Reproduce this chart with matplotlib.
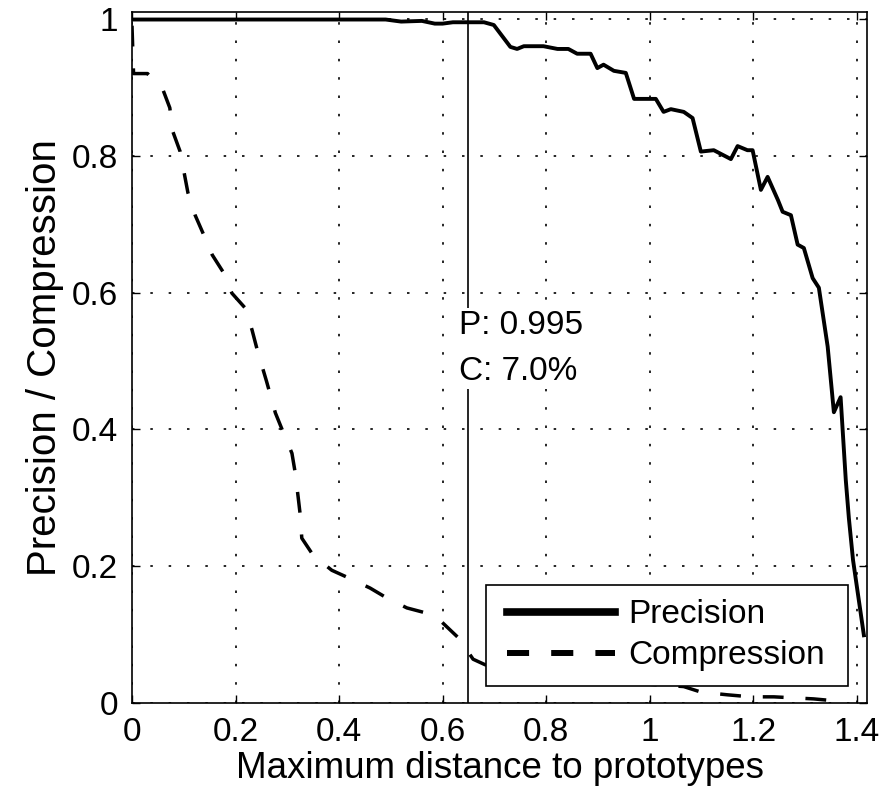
import matplotlib
matplotlib.use("Agg")
import matplotlib.pyplot as plt
from matplotlib.patches import Rectangle

plt.rcParams["font.family"] = ["Liberation Sans", "DejaVu Sans"]

# precision curve
prec_x = [0.0, 0.49, 0.52, 0.56, 0.585, 0.60, 0.62, 0.68, 0.699, 0.731, 0.744, 0.757,
          0.795, 0.822, 0.843, 0.860, 0.886, 0.899, 0.911, 0.931, 0.954, 0.970, 1.012,
          1.027, 1.041, 1.066, 1.083, 1.099, 1.124, 1.157, 1.170, 1.189, 1.199, 1.215,
          1.228, 1.248, 1.257, 1.273, 1.286, 1.298, 1.315, 1.327, 1.344, 1.356, 1.369,
          1.379, 1.385, 1.393, 1.414]
prec_y = [0.999, 0.999, 0.996, 0.997, 0.993, 0.993, 0.995, 0.995, 0.991, 0.959, 0.956, 0.960,
          0.960, 0.956, 0.956, 0.949, 0.949, 0.928, 0.933, 0.924, 0.921, 0.883, 0.883,
          0.864, 0.868, 0.864, 0.855, 0.806, 0.808, 0.795, 0.814, 0.808, 0.808, 0.750,
          0.769, 0.735, 0.718, 0.713, 0.670, 0.665, 0.621, 0.607, 0.521, 0.425, 0.447,
          0.326, 0.270, 0.209, 0.099]

# compression curve
comp_x = [0.0, 0.003, 0.03, 0.06, 0.073, 0.079, 0.093, 0.108, 0.122, 0.137, 0.155, 0.176,
          0.193, 0.219, 0.232, 0.242, 0.26, 0.277, 0.292, 0.309, 0.315, 0.321, 0.325, 0.328,
          0.350, 0.386, 0.421, 0.460, 0.489, 0.531, 0.566, 0.599, 0.631, 0.659, 0.682,
          0.75, 0.85, 0.95, 1.066, 1.099, 1.150, 1.195, 1.240, 1.317, 1.36]
comp_y = [0.99, 0.92, 0.92, 0.896, 0.870, 0.835, 0.806, 0.746, 0.713, 0.687, 0.655, 0.630,
          0.599, 0.577, 0.545, 0.516, 0.47, 0.424, 0.396, 0.365, 0.338, 0.301, 0.275, 0.241,
          0.216, 0.194, 0.182, 0.168, 0.155, 0.139, 0.132, 0.118, 0.095, 0.064, 0.056,
          0.045, 0.035, 0.030, 0.024, 0.016, 0.012, 0.009, 0.009, 0.006, 0.003]

sel_x = 0.649
sel_p = 0.995
sel_c = 7.0

xticks = [0, 0.2, 0.4, 0.6, 0.8, 1.0, 1.2, 1.4]
xtick_labels = ["0", "0.2", "0.4", "0.6", "0.8", "1", "1.2", "1.4"]
yticks = [0, 0.2, 0.4, 0.6, 0.8, 1.0]
ytick_labels = ["0", "0.2", "0.4", "0.6", "0.8", "1"]

fs = 24
fig = plt.figure(figsize=(8.85, 7.97), dpi=100)
ax = fig.add_axes([132 / 885, 94 / 797, 735 / 885, 691 / 797])

ax.plot(prec_x, prec_y, color="k", linewidth=2.8, label="Precision", zorder=3)
ax.plot(comp_x, comp_y, color="k", linewidth=2.5, linestyle=(0, (6, 6.3)),
        label="Compression", zorder=3)
ax.axvline(sel_x, color="k", linewidth=1.2, zorder=2)

ax.text(0.631, 0.574, f"P: {sel_p:.3f}\nC: {sel_c:.1f}%", fontsize=fs, va="top", ha="left",
        linespacing=1.6, zorder=4,
        bbox=dict(facecolor="white", edgecolor="none", pad=2))

ax.set_xlim(0, 1.42)
ax.set_ylim(0, 1.01)
ax.set_xticks(xticks)
ax.set_xticklabels(xtick_labels)
ax.set_yticks(yticks)
ax.set_yticklabels(ytick_labels)
ax.tick_params(direction="in", length=6, width=1, top=True, right=True,
               labelsize=fs, pad=10)
ax.grid(True, color="k", linestyle=(0, (1.5, 9.5)), linewidth=1.2)
for s in ax.spines.values():
    s.set_linewidth(1.2)

ax.set_xlabel("Maximum distance to prototypes", fontsize=26.5, labelpad=2)
ax.set_ylabel("Precision / Compression", fontsize=29, labelpad=6)

# legend box (wider left padding than matplotlib gives, so frame drawn separately)
ax.add_patch(Rectangle((0.4816, 0.0246), 0.4925, 0.1462, transform=ax.transAxes,
                       facecolor="white", edgecolor="k", linewidth=1.2, zorder=4))
leg = ax.legend(loc="center left", bbox_to_anchor=(0.510, 0.0977), fontsize=fs,
                handlelength=3.25, handletextpad=0.4, borderpad=0, labelspacing=0.3,
                frameon=False, borderaxespad=0)
leg.set_zorder(5)
h_solid, h_dash = leg.get_lines()
h_solid.set_linewidth(5.5)
h_dash.set_linewidth(4.3)
h_dash.set_linestyle((0, (3.7, 3.7)))

fig.savefig("out.png", dpi=100)
